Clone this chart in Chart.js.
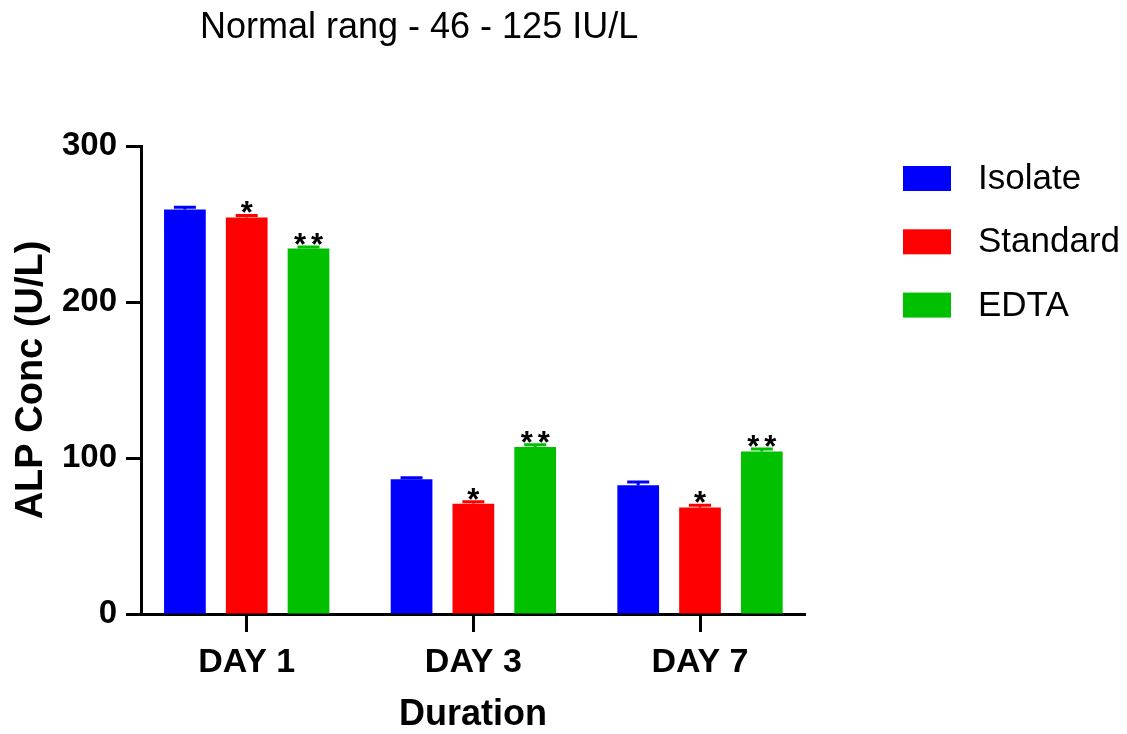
<!DOCTYPE html>
<html><head><meta charset="utf-8">
<script src="https://cdn.jsdelivr.net/npm/chart.js@4.4.1/dist/chart.umd.min.js"></script>
<style>html,body{margin:0;padding:0;background:#fff}#wrap{position:relative;width:1127px;height:734px}</style>
</head><body><div id="wrap"><canvas id="c"></canvas></div>
<script>
const categories = ['DAY 1', 'DAY 3', 'DAY 7'];
const seriesNames = ['Isolate', 'Standard', 'EDTA'];
const isolateValues = [259.3, 86.4, 82.6];
const standardValues = [254.2, 70.6, 68.2];
const edtaValues = [234.3, 107.0, 104.2];
const isolateErrors = [1.5, 1.0, 2.0];
const standardErrors = [1.3, 1.3, 1.5];
const edtaErrors = [1.0, 1.5, 1.5];
const isolateMarks = ['', '', ''];
const standardMarks = ['*', '*', '*'];
const edtaMarks = ['**', '**', '**'];
const yTickValues = [0, 100, 200, 300];
const chartTitle = 'Normal rang - 46 - 125 IU/L';
const xTitle = 'Duration';
const yTitle = 'ALP Conc (U/L)';
const seriesColors = ['#0000FF', '#FF0000', '#00C000'];

const FONT = "'Liberation Sans', Arial, Helvetica, sans-serif";

const annot = {
  id: 'annot',
  afterDatasetsDraw(chart) {
    const ctx = chart.ctx, ys = chart.scales.y;
    chart.data.datasets.forEach((ds, di) => {
      const meta = chart.getDatasetMeta(di);
      meta.data.forEach((bar, i) => {
        const v = ds.data[i], e = ds.errors[i];
        const yTop = ys.getPixelForValue(v + e);
        ctx.save();
        ctx.strokeStyle = ds.backgroundColor;
        ctx.lineWidth = 3;
        ctx.beginPath();
        ctx.moveTo(bar.x, bar.y); ctx.lineTo(bar.x, yTop);
        ctx.moveTo(bar.x - 11, yTop); ctx.lineTo(bar.x + 11, yTop);
        ctx.stroke();
        const m = ds.marks[i];
        if (m) {
          ctx.fillStyle = '#000';
          ctx.font = 'bold 31px ' + FONT;
          ctx.textAlign = 'center';
          ctx.textBaseline = 'alphabetic';
          const n = m.length;
          for (let k = 0; k < n; k++) {
            const dx = (k - (n - 1) / 2) * 17;
            ctx.fillText(m[k], bar.x + dx, yTop + 8);
          }
        }
        ctx.restore();
      });
    });
  },
  afterDraw(chart) {
    const ctx = chart.ctx, area = chart.chartArea;
    ctx.save();
    ctx.fillStyle = '#000';
    ctx.font = '36px ' + FONT;
    ctx.textAlign = 'left';
    ctx.textBaseline = 'middle';
    ctx.fillText(chartTitle, 200, 28);
    const lx = area.right + 98;
    chart.data.datasets.forEach((ds, i) => {
      const cy = 178.5 + i * 63.3;
      ctx.fillStyle = ds.backgroundColor;
      ctx.fillRect(lx, cy - 12.5, 48, 25);
      ctx.fillStyle = '#000';
      ctx.font = '35px ' + FONT;
      ctx.textAlign = 'left';
      ctx.textBaseline = 'middle';
      ctx.fillText(ds.label, lx + 75, cy + 1);
    });
    ctx.restore();
  }
};

const valueSets = [isolateValues, standardValues, edtaValues];
const errorSets = [isolateErrors, standardErrors, edtaErrors];
const markSets = [isolateMarks, standardMarks, edtaMarks];

new Chart(document.getElementById('c'), {
  type: 'bar',
  data: {
    labels: categories,
    datasets: seriesNames.map((name, i) => ({
      label: name,
      data: valueSets[i],
      errors: errorSets[i],
      marks: markSets[i],
      backgroundColor: seriesColors[i],
      borderWidth: 0,
      categoryPercentage: 0.818,
      barPercentage: 0.675
    }))
  },
  options: {
    responsive: true,
    maintainAspectRatio: false,
    animation: false,
    devicePixelRatio: 1,
    layout: { padding: { left: 0, right: 322, top: 146, bottom: 0 } },
    plugins: { legend: { display: false }, title: { display: false }, tooltip: { enabled: false } },
    scales: {
      x: {
        z: 1,
        offset: true,
        afterBuildTicks(s) { s._startValue = -0.4664; s._valueRange = 2.9296; },
        afterFit(s) { s.height = 120; },
        grid: { display: true, drawOnChartArea: false, offset: false, drawTicks: true, tickLength: 18, tickWidth: 3, tickColor: '#000' },
        border: { display: true, color: '#000', width: 3 },
        ticks: { color: '#000', padding: 10, font: { family: FONT, size: 34, weight: 'bold' }, maxRotation: 0, autoSkip: false },
        title: { display: true, text: xTitle, color: '#000', font: { family: FONT, size: 36, weight: 'bold', lineHeight: 1 }, padding: { top: 0, bottom: 1 } }
      },
      y: {
        z: 1,
        min: 0,
        max: 300,
        afterBuildTicks(s) { s.ticks = yTickValues.map(v => ({ value: v })); },
        afterFit(s) { s.width = 141; },
        grid: { display: true, drawOnChartArea: false, drawTicks: true, tickLength: 15, tickWidth: 3, tickColor: '#000' },
        border: { display: true, color: '#000', width: 3 },
        ticks: { color: '#000', padding: 9, font: { family: FONT, size: 33, weight: 'bold' } },
        title: { display: true, text: yTitle, color: '#000', font: { family: FONT, size: 38, weight: 'bold', lineHeight: 1 }, padding: { top: 13, bottom: 0 } }
      }
    }
  },
  plugins: [annot]
});
</script>
</body></html>
